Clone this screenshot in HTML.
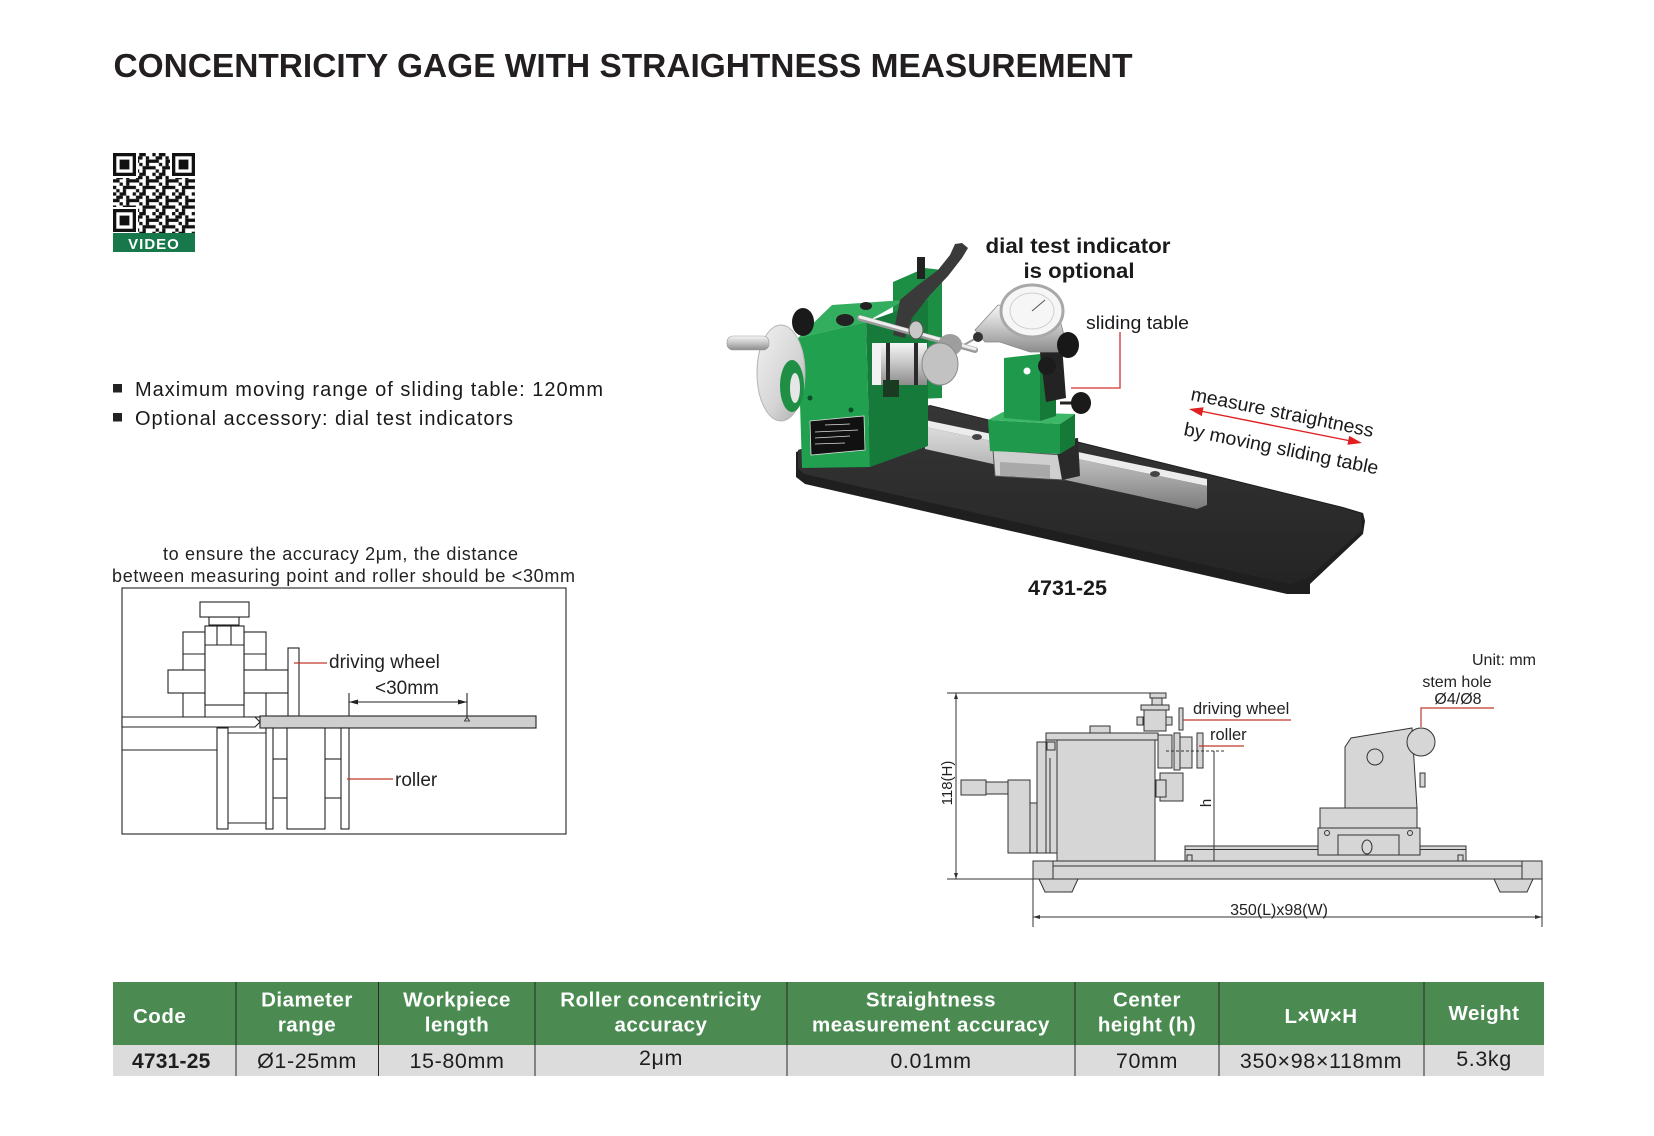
<!DOCTYPE html>
<html><head><meta charset="utf-8"><style>
html,body{margin:0;padding:0;background:#fff;}
svg{display:block;}
text{font-family:"Liberation Sans",Arial,sans-serif;}
</style></head><body>
<svg width="1654" height="1136" viewBox="0 0 1654 1136" xmlns="http://www.w3.org/2000/svg">
<defs>
<linearGradient id="rod" x1="0" y1="0" x2="0" y2="1"><stop offset="0" stop-color="#f6f6f6"/><stop offset="0.45" stop-color="#c9c9c9"/><stop offset="1" stop-color="#8c8c8c"/></linearGradient>
<linearGradient id="wheel" x1="0" y1="0" x2="1" y2="1"><stop offset="0" stop-color="#f2f2f2"/><stop offset="0.6" stop-color="#d4d4d4"/><stop offset="1" stop-color="#a8a8a8"/></linearGradient>
<linearGradient id="railf" x1="0" y1="0" x2="0" y2="1"><stop offset="0" stop-color="#dcdcdc"/><stop offset="0.5" stop-color="#b4b4b4"/><stop offset="1" stop-color="#7c7c7c"/></linearGradient>
<linearGradient id="plate" x1="0" y1="0" x2="0" y2="1"><stop offset="0" stop-color="#363636"/><stop offset="1" stop-color="#242424"/></linearGradient>
<pattern id="qr" x="113" y="153" width="19.68" height="19.68" patternUnits="userSpaceOnUse">
<rect x="0" y="0" width="3.28" height="3.28" fill="#111"/><rect x="6.56" y="0" width="6.56" height="3.28" fill="#111"/>
<rect x="3.28" y="3.28" width="6.56" height="3.28" fill="#111"/><rect x="13.12" y="3.28" width="3.28" height="3.28" fill="#111"/>
<rect x="0" y="6.56" width="6.56" height="3.28" fill="#111"/><rect x="13.12" y="6.56" width="6.56" height="3.28" fill="#111"/>
<rect x="6.56" y="9.84" width="3.28" height="3.28" fill="#111"/><rect x="13.12" y="9.84" width="3.28" height="3.28" fill="#111"/>
<rect x="0" y="13.12" width="3.28" height="3.28" fill="#111"/><rect x="9.84" y="13.12" width="9.84" height="3.28" fill="#111"/>
<rect x="3.28" y="16.4" width="3.28" height="3.28" fill="#111"/><rect x="9.84" y="16.4" width="3.28" height="3.28" fill="#111"/>
</pattern>
</defs>
<rect width="1654" height="1136" fill="#fff"/>

<!-- Title -->
<text x="113.5" y="77" font-size="33" font-weight="bold" fill="#231f20" textLength="1019" lengthAdjust="spacingAndGlyphs">CONCENTRICITY GAGE WITH STRAIGHTNESS MEASUREMENT</text>

<!-- QR -->
<rect x="113" y="153" width="82" height="80" fill="url(#qr)"/>
<g fill="#111">
<rect x="112" y="152" width="26" height="26" fill="#fff"/><rect x="113" y="153" width="23" height="23"/><rect x="116.3" y="156.3" width="16.4" height="16.4" fill="#fff"/><rect x="119.6" y="159.6" width="9.8" height="9.8"/>
<rect x="170" y="152" width="26" height="26" fill="#fff"/><rect x="172" y="153" width="23" height="23"/><rect x="175.3" y="156.3" width="16.4" height="16.4" fill="#fff"/><rect x="178.6" y="159.6" width="9.8" height="9.8"/>
<rect x="112" y="207" width="26" height="26" fill="#fff"/><rect x="113" y="209" width="23" height="23"/><rect x="116.3" y="212.3" width="16.4" height="16.4" fill="#fff"/><rect x="119.6" y="215.6" width="9.8" height="9.8"/>
</g>
<rect x="113" y="233" width="82" height="19" fill="#17784c"/>
<text x="154" y="249" font-size="15" font-weight="bold" fill="#fff" text-anchor="middle" letter-spacing="1">VIDEO</text>

<!-- Bullets -->
<rect x="113" y="384" width="9" height="8.5" fill="#222"/>
<text x="135" y="396" font-size="20" fill="#1a1a1a" textLength="468" lengthAdjust="spacing">Maximum moving range of sliding table: 120mm</text>
<rect x="113" y="413" width="9" height="8.5" fill="#222"/>
<text x="135" y="425" font-size="20" fill="#1a1a1a" textLength="378" lengthAdjust="spacing">Optional accessory: dial test indicators</text>

<!-- Left diagram -->
<text x="163" y="560" font-size="18" fill="#222" textLength="355" lengthAdjust="spacing">to ensure the accuracy 2μm, the distance</text>
<text x="112" y="582" font-size="18" fill="#222" textLength="463" lengthAdjust="spacing">between measuring point and roller should be &lt;30mm</text>
<g stroke="#222" stroke-width="1.1" fill="#fff">
<rect x="122" y="588" width="444" height="246" fill="none"/>
<rect x="183" y="632" width="22" height="85"/>
<rect x="244" y="632" width="22" height="85"/>
<line x1="183" y1="654" x2="205" y2="654"/><line x1="244" y1="654" x2="266" y2="654"/>
<rect x="168" y="670" width="120" height="23"/>
<rect x="205" y="626" width="39" height="79"/>
<line x1="205" y1="645" x2="244" y2="645"/>
<line x1="217" y1="626" x2="217" y2="645"/><line x1="231" y1="626" x2="231" y2="645"/>
<rect x="209" y="617" width="30" height="8"/>
<rect x="200" y="602" width="49" height="15"/>
<rect x="288" y="648" width="11" height="69"/>
<polygon points="122,717 255,717 260,722 255,727 122,727"/>
<rect x="260" y="716" width="276" height="12" fill="#cfcfcf"/>
<line x1="122" y1="750" x2="217" y2="750"/>
<rect x="217" y="728" width="11" height="101"/>
<line x1="228" y1="733" x2="266" y2="733"/><line x1="228" y1="823" x2="266" y2="823"/>
<rect x="266" y="728" width="7" height="101"/>
<rect x="287" y="728" width="38" height="101"/>
<line x1="273" y1="759" x2="287" y2="759"/><line x1="273" y1="798" x2="287" y2="798"/>
<line x1="325" y1="759" x2="341" y2="759"/><line x1="325" y1="798" x2="341" y2="798"/>
<rect x="341" y="728" width="8" height="101"/>
<line x1="349" y1="693" x2="349" y2="716"/><line x1="467" y1="693" x2="467" y2="716"/>
<line x1="349" y1="702" x2="467" y2="702"/>
</g>
<polygon points="349,702 358,699.5 358,704.5" fill="#222"/>
<polygon points="467,702 458,699.5 458,704.5" fill="#222"/>
<polygon points="464.5,721 467,717 469.5,721" fill="none" stroke="#222" stroke-width="0.8"/>
<line x1="294" y1="663" x2="327" y2="663" stroke="#c0392b" stroke-width="1.2"/>
<text x="329" y="668" font-size="19" fill="#222">driving wheel</text>
<text x="375" y="694" font-size="19" fill="#222">&lt;30mm</text>
<line x1="347" y1="779" x2="393" y2="779" stroke="#c0392b" stroke-width="1.2"/>
<text x="395" y="786" font-size="19" fill="#222">roller</text>

<!-- Photo -->
<polygon points="796,452 930,405 1343,507 1363,513 1365,521 1363,534 1310,584 1310,594 1287,594 805,484 796,477" fill="#1f1f1f"/>
<polygon points="798,450 930,406 1342,508 1361,514 1362,530 1308,578 1290,584 804,474 798,468" fill="url(#plate)"/>
<polygon points="925,420 1207,479 1207,486 925,427" fill="#ececec"/>
<polygon points="925,427 1207,486 1207,505 1197,509 925,449" fill="url(#railf)"/>
<ellipse cx="977" cy="437" rx="5" ry="3" fill="#444"/>
<ellipse cx="1155" cy="474" rx="5" ry="3" fill="#444"/>
<polygon points="993,450 1062,455 1065,480 995,476" fill="#cfcfcf" stroke="#555" stroke-width="1"/>
<polygon points="1000,462 1050,465 1050,478 1000,476" fill="#a9a9a9"/>
<polygon points="1055,440 1078,438 1080,476 1062,480" fill="#2a2a2a"/>
<!-- sliding table green -->
<polygon points="988,420 1003,412 1075,414 1060,424" fill="#3cb768"/>
<polygon points="988,420 1060,424 1060,454 990,451" fill="#1f9a4c"/>
<polygon points="1060,424 1075,414 1075,445 1060,454" fill="#157a38"/>
<polygon points="1004,358 1040,354 1040,421 1004,418" fill="#1f9a4c"/>
<polygon points="1040,354 1056,348 1056,416 1040,421" fill="#157a38"/>
<circle cx="1027" cy="371" r="3.5" fill="#fff"/>
<polygon points="1040,352 1062,345 1066,398 1046,402" fill="#232323"/>
<circle cx="1047" cy="366" r="9" fill="#1c1c1c"/>
<line x1="1060" y1="403" x2="1078" y2="403" stroke="#222" stroke-width="3"/>
<ellipse cx="1081" cy="403" rx="10" ry="11" fill="#1a1a1a"/>
<!-- dial indicator -->
<polygon points="975,330 998,305 1058,313 1066,342 1058,352 1030,352 1000,342 985,342" fill="url(#rod)" stroke="#888" stroke-width="0.8"/>
<ellipse cx="1032" cy="311" rx="31" ry="26" fill="#f6f6f6" stroke="#a8a8a8" stroke-width="3"/>
<ellipse cx="1032" cy="311" rx="22" ry="18" fill="none" stroke="#cfcfcf" stroke-width="1"/>
<line x1="1032" y1="311" x2="1045" y2="300" stroke="#555" stroke-width="1"/>
<line x1="978" y1="337" x2="955" y2="350" stroke="#999" stroke-width="2"/>
<circle cx="978" cy="337" r="5" fill="#333"/>
<ellipse cx="1068" cy="345" rx="11" ry="13" fill="#181818"/>
<!-- left housing -->
<polygon points="893,282 925,268 942,270 942,398 893,400" fill="#1c8f45"/>
<polygon points="866,322 928,300 928,446 870,467" fill="#167b3a"/>
<polygon points="798,338 866,322 905,300 832,305" fill="#33ad5e"/>
<polygon points="798,338 866,322 870,467 802,468" fill="#21a04f"/>
<polygon points="810,421 864,416 865,450 811,455" fill="#111" stroke="#ddd" stroke-width="0.8"/>
<g stroke="#ddd" stroke-width="0.8"><line x1="825" y1="425" x2="850" y2="424"/><line x1="815" y1="432" x2="858" y2="430"/><line x1="815" y1="438" x2="850" y2="436"/><line x1="815" y1="444" x2="845" y2="443"/></g>
<circle cx="810" cy="398" r="2.5" fill="#0d4d25"/>
<circle cx="851" cy="410" r="2.5" fill="#0d4d25"/>
<polygon points="893,335 900,300 918,285 938,270 950,255 955,244 962,243 968,248 962,258 948,276 930,295 912,318 905,338" fill="#3a3a3a"/>
<rect x="917" y="257" width="8" height="22" fill="#222"/>
<ellipse cx="803" cy="322" rx="11" ry="14" fill="#1a1a1a"/>
<ellipse cx="781" cy="373" rx="24" ry="48" fill="url(#wheel)" stroke="#b5b5b5" stroke-width="1"/>
<ellipse cx="792" cy="386" rx="12" ry="26" fill="#1f8f45"/>
<ellipse cx="795" cy="388" rx="5" ry="15" fill="#e6e6e6"/>
<rect x="727" y="336" width="42" height="14" rx="6" fill="url(#rod)" stroke="#999" stroke-width="0.6"/>
<line x1="860" y1="318" x2="975" y2="350" stroke="#9a9a9a" stroke-width="6" stroke-linecap="round"/>
<line x1="860" y1="317" x2="975" y2="349" stroke="#eeeeee" stroke-width="3" stroke-linecap="round"/>
<ellipse cx="916" cy="330" rx="7" ry="9" fill="#c8c8c8" stroke="#555" stroke-width="1"/>
<ellipse cx="950" cy="345" rx="12" ry="11" fill="#9e9e9e"/>
<rect x="872" y="343" width="55" height="42" fill="url(#rod)"/>
<rect x="872" y="343" width="9" height="42" fill="#f2f2f2"/>
<rect x="886" y="343" width="4" height="42" fill="#2a2a2a"/>
<rect x="914" y="343" width="4" height="42" fill="#2a2a2a"/>
<ellipse cx="940" cy="364" rx="18" ry="21" fill="#c2c2c2" stroke="#8a8a8a" stroke-width="1"/>
<rect x="883" y="380" width="16" height="17" fill="#1a3a22"/>
<ellipse cx="845" cy="320" rx="9" ry="6" fill="#222"/>
<ellipse cx="866" cy="306" rx="6" ry="4" fill="#222"/>
<!-- photo labels -->
<text x="1078" y="253" font-size="21" font-weight="bold" fill="#1a1a1a" text-anchor="middle" textLength="185" lengthAdjust="spacingAndGlyphs">dial test indicator</text>
<text x="1079" y="278" font-size="21" font-weight="bold" fill="#1a1a1a" text-anchor="middle" textLength="111" lengthAdjust="spacingAndGlyphs">is optional</text>
<text x="1086" y="329" font-size="18" fill="#1a1a1a" textLength="103" lengthAdjust="spacingAndGlyphs">sliding table</text>
<polyline points="1071,388 1120,388 1120,332" fill="none" stroke="#d03030" stroke-width="1.3"/>
<text x="1190" y="400" font-size="19" fill="#1a1a1a" transform="rotate(11.5 1190 400)" textLength="186" lengthAdjust="spacingAndGlyphs">measure straightness</text>
<text x="1183" y="435" font-size="19" fill="#1a1a1a" transform="rotate(11.5 1183 435)" textLength="198" lengthAdjust="spacingAndGlyphs">by moving sliding table</text>
<line x1="1195" y1="410" x2="1356" y2="442" stroke="#e02020" stroke-width="1.4"/>
<polygon points="1362,443 1347.4,444.7 1349.2,435.9" fill="#e02020"/>
<polygon points="1189,409 1201.8,416.1 1203.6,407.3" fill="#e02020"/>
<text x="1028" y="595" font-size="21" font-weight="bold" fill="#1a1a1a" textLength="79" lengthAdjust="spacingAndGlyphs">4731-25</text>

<!-- Lower right technical drawing -->
<text x="1472" y="665" font-size="16" fill="#222">Unit: mm</text>
<text x="1457" y="687" font-size="16" fill="#222" text-anchor="middle">stem hole</text>
<text x="1458" y="704" font-size="16" fill="#222" text-anchor="middle">Ø4/Ø8</text>
<polyline points="1494,708 1421,708 1421,727" fill="none" stroke="#c0392b" stroke-width="1.2"/>
<g stroke="#333" stroke-width="1" fill="#d6d6d6">
<line x1="947" y1="693" x2="1150" y2="693" fill="none"/>
<line x1="947" y1="879" x2="1033" y2="879" fill="none"/>
<line x1="956" y1="693" x2="956" y2="879" fill="none"/>
<line x1="1033" y1="879" x2="1033" y2="927" fill="none"/>
<line x1="1542" y1="879" x2="1542" y2="927" fill="none"/>
<line x1="1033" y1="917" x2="1542" y2="917" fill="none"/>
<rect x="1033" y="861" width="509" height="18"/>
<line x1="1053" y1="861" x2="1053" y2="879"/><line x1="1522" y1="861" x2="1522" y2="879"/>
<line x1="1053" y1="866" x2="1522" y2="866"/>
<polygon points="1039,879 1078,879 1072,892 1045,892"/>
<polygon points="1494,879 1533,879 1527,892 1500,892"/>
<rect x="1185" y="846" width="281" height="15"/>
<line x1="1185" y1="849.5" x2="1466" y2="849.5"/>
<rect x="1187" y="855" width="5" height="6"/><rect x="1458" y="855" width="5" height="6"/>
<rect x="1318" y="828" width="102" height="27"/>
<rect x="1338" y="835" width="61" height="20"/>
<circle cx="1327" cy="833" r="2.5"/><circle cx="1410" cy="833" r="2.5"/>
<ellipse cx="1367" cy="847" rx="5" ry="7"/>
<rect x="1320" y="808" width="97" height="20"/>
<polygon points="1345,808 1345,747 1351,738 1412,728 1417,808"/>
<circle cx="1375" cy="757" r="8"/>
<rect x="1420" y="773" width="5" height="14"/>
<circle cx="1421" cy="742" r="14"/>
<rect x="1008" y="780" width="22" height="73"/>
<rect x="1030" y="803" width="9" height="50"/>
<rect x="961" y="780" width="25" height="15"/>
<rect x="986" y="782" width="22" height="12"/>
<rect x="1037" y="742" width="9" height="111"/>
<rect x="1046" y="740" width="11" height="113"/>
<rect x="1047" y="742" width="8" height="8"/>
<line x1="1050" y1="758" x2="1050" y2="853"/>
<rect x="1046" y="733" width="112" height="7"/>
<rect x="1057" y="740" width="98" height="121"/>
<rect x="1090" y="726" width="20" height="7"/>
<rect x="1150" y="693" width="16" height="5"/>
<rect x="1152" y="698" width="10" height="7"/>
<rect x="1141" y="705" width="28" height="5"/>
<rect x="1144" y="710" width="22" height="21"/>
<rect x="1137" y="717" width="6" height="8"/><rect x="1166" y="717" width="6" height="8"/>
<rect x="1179" y="708" width="4" height="22"/>
<rect x="1158" y="735" width="14" height="33"/>
<rect x="1174" y="733" width="6" height="37"/>
<rect x="1180" y="737" width="12" height="31"/>
<rect x="1197" y="733" width="6" height="35"/>
<rect x="1160" y="773" width="23" height="28"/>
<rect x="1156" y="780" width="10" height="17"/>
<line x1="1214" y1="751" x2="1214" y2="861" fill="none"/>
<line x1="1166" y1="751" x2="1226" y2="751" fill="none" stroke-dasharray="3,2"/>
</g>
<polygon points="956,693 954,699 958,699" fill="#333"/><polygon points="956,879 954,873 958,873" fill="#333"/>
<polygon points="1033,917 1040,915 1040,919" fill="#333"/><polygon points="1542,917 1535,915 1535,919" fill="#333"/>
<text x="0" y="0" font-size="15" fill="#222" text-anchor="middle" transform="translate(952 783) rotate(-90)">118(H)</text>
<text x="0" y="0" font-size="15" fill="#222" text-anchor="middle" transform="translate(1211 803) rotate(-90)">h</text>
<text x="1279" y="915" font-size="16" fill="#222" text-anchor="middle">350(L)x98(W)</text>
<line x1="1183" y1="720" x2="1291" y2="720" stroke="#c0392b" stroke-width="1.2"/>
<text x="1193" y="714" font-size="16.5" fill="#222">driving wheel</text>
<line x1="1199" y1="746" x2="1244" y2="746" stroke="#c0392b" stroke-width="1.2"/>
<text x="1210" y="740" font-size="16.5" fill="#222">roller</text>

<!-- Table -->
<rect x="113" y="982" width="1431" height="63" fill="#4b8b52"/>
<rect x="113" y="1045" width="1431" height="31" fill="#dcdcdc"/>
<g stroke="#2a2a2a" stroke-width="1">
<line x1="236" y1="982" x2="236" y2="1076"/><line x1="378.5" y1="982" x2="378.5" y2="1076"/>
<line x1="535" y1="982" x2="535" y2="1076"/><line x1="787" y1="982" x2="787" y2="1076"/>
<line x1="1075" y1="982" x2="1075" y2="1076"/><line x1="1219" y1="982" x2="1219" y2="1076"/>
<line x1="1424" y1="982" x2="1424" y2="1076"/>
</g>
<g font-size="20.5" font-weight="bold" fill="#fff" text-anchor="middle" letter-spacing="0.5">
<text x="133" y="1023" text-anchor="start">Code</text>
<text x="307" y="1006.7">Diameter</text><text x="307" y="1031.7">range</text>
<text x="457" y="1006.7">Workpiece</text><text x="457" y="1031.7">length</text>
<text x="661" y="1006.7">Roller concentricity</text><text x="661" y="1031.7">accuracy</text>
<text x="931" y="1006.7">Straightness</text><text x="931" y="1031.7">measurement accuracy</text>
<text x="1147" y="1006.7">Center</text><text x="1147" y="1031.7">height (h)</text>
<text x="1321" y="1023">L×W×H</text>
<text x="1484" y="1020">Weight</text>
</g>
<g font-size="21.5" fill="#1e1e1e" text-anchor="middle" letter-spacing="0.6">
<text x="132" y="1068" text-anchor="start" font-weight="bold" font-size="21" letter-spacing="0.2">4731-25</text>
<text x="307" y="1068">Ø1-25mm</text>
<text x="457" y="1068">15-80mm</text>
<text x="661" y="1065">2μm</text>
<text x="931" y="1068">0.01mm</text>
<text x="1147" y="1068">70mm</text>
<text x="1321" y="1068">350×98×118mm</text>
<text x="1484" y="1066">5.3kg</text>
</g>
</svg>
</body></html>
